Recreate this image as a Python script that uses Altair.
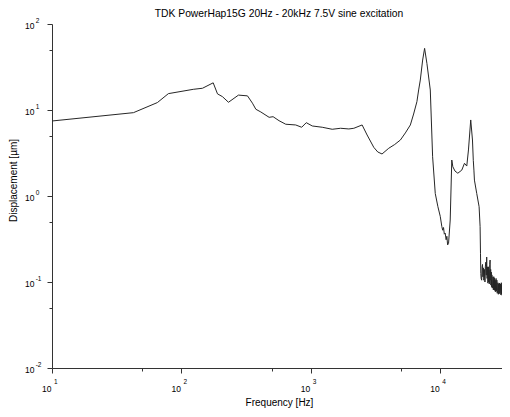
import altair as alt
import pandas as pd

# ---- data (frequency [Hz], displacement [um]) ----
freq = [10, 42.6, 65.2, 79.3, 123.5, 145.5, 176, 190, 207.5, 231, 276, 324, 354, 376,
        411, 476, 511, 568, 640, 764, 850, 922, 1026, 1225, 1463, 1698, 1967, 2150,
        2490, 2722, 3064, 3289, 3549, 3999, 4446, 4921, 5375, 5875, 6226, 6602, 6808,
        7012, 7310, 7570, 7885, 8375,
        8730, 9150, 9590, 10000, 10290, 10450, 10600, 10750, 10920, 11100, 11250,
        11400, 11590, 11940, 12280, 12510, 13000, 13670, 14670, 15390, 16030, 16520,
        17200, 17740, 18000, 18200, 18370, 19140, 19960, 20320, 20460, 20570,
        20700, 20890, 21050, 21200, 21350, 21560, 21700, 21850, 22000, 22150, 22300,
        22500, 22680, 22850, 23000, 23100, 23250, 23340, 23450, 23550, 23650, 23770,
        23900, 24000, 24130, 24270, 24380, 24450, 24530, 24610, 24730, 24850, 24950,
        25060, 25200, 25400, 25550, 25720, 25850, 25950, 26050, 26190, 26300, 26450,
        26550, 26670, 26800, 27000, 27180, 27380, 27550, 27750, 27900, 28100, 28230,
        28350, 28480, 28630, 28800, 29000, 29200, 29390, 29520, 29650, 29800, 29930,
        30100, 30300, 30500, 30740, 31000, 31270, 31500]
disp = [7.45, 9.31, 12.2, 15.5, 17.4, 17.9, 20.7, 15.4, 14.3, 12.3, 14.9, 14.6, 12.0, 10.2,
        9.48, 8.22, 8.36, 7.51, 6.83, 6.70, 6.30, 7.12, 6.52, 6.30, 5.97, 6.13, 6.02, 6.13,
        6.70, 5.12, 3.68, 3.25, 3.08, 3.59, 3.97, 4.48, 5.41, 6.70, 8.98, 12.5, 17.1,
        22.3, 38.1, 52.1, 34.9, 17.1,
        2.86, 1.07, 0.751, 0.58, 0.44, 0.40, 0.43, 0.36, 0.37, 0.31, 0.34,
        0.27, 0.28, 0.526, 2.62, 2.19, 1.95, 1.84, 2.00, 2.40, 2.23, 3.43,
        7.66, 4.48, 2.6, 2.0, 1.53, 1.07, 0.751, 0.44, 0.216, 0.126,
        0.110, 0.105, 0.150, 0.160, 0.115, 0.146, 0.105, 0.110, 0.140, 0.100, 0.150,
        0.170, 0.120, 0.195, 0.110, 0.120, 0.150, 0.097, 0.140, 0.150, 0.100, 0.138,
        0.095, 0.100, 0.160, 0.180, 0.105, 0.110, 0.140, 0.092, 0.125, 0.130, 0.088,
        0.121, 0.085, 0.090, 0.115, 0.081, 0.105, 0.115, 0.082, 0.111, 0.080, 0.085,
        0.105, 0.077, 0.100, 0.110, 0.078, 0.105, 0.074, 0.080, 0.098, 0.072, 0.092,
        0.095, 0.073, 0.097, 0.074, 0.078, 0.095, 0.071, 0.088, 0.098, 0.072, 0.092,
        0.070, 0.075, 0.088, 0.067, 0.088, 0.081, 0.072]

x_ticks = [10, 100, 1000, 10000]
x_exps = ["1", "2", "3", "4"]
y_ticks = [0.01, 0.1, 1, 10, 100]
y_exps = ["-2", "-1", "0", "1", "2"]
x_axis_values = [10, 50, 100, 500, 1000, 5000, 10000]
y_axis_values = [0.01, 0.05, 0.1, 0.5, 1, 5, 10, 50, 100]

title_text = "TDK PowerHap15G 20Hz - 20kHz 7.5V sine excitation"
x_title = "Frequency [Hz]"
y_title = "Displacement [µm]"

W, H = 450, 344
FONT = "Liberation Sans"

df = pd.DataFrame({"f": freq, "d": disp, "i": list(range(len(freq)))})
xl = pd.DataFrame({"t": x_ticks, "e": x_exps, "b": ["10"] * len(x_ticks)})
yl = pd.DataFrame({"t": y_ticks, "e": y_exps, "b": ["10"] * len(y_ticks)})
tl = pd.DataFrame({"t": [title_text]})

xs = alt.Scale(type="log", domain=[10, 30000], nice=False)
ys = alt.Scale(type="log", domain=[0.01, 100], nice=False)

minor_test = "indexof(toString(datum.value), '5') >= 0"
tick_size = {"condition": {"test": minor_test, "value": 3}, "value": 5}

x_axis = alt.Axis(values=x_axis_values, labels=False, grid=False, tickSize=tick_size,
                  domainColor="#333333", tickColor="#333333", title=x_title,
                  titleFont=FONT, titleFontSize=10, titleFontWeight="normal",
                  titleColor="black", titleX=W / 2 + 2, titleY=37, titleAlign="center",
                  titleBaseline="alphabetic")
y_axis = alt.Axis(values=y_axis_values, labels=False, grid=False, tickSize=tick_size,
                  domainColor="#333333", tickColor="#333333", title=y_title,
                  titleFont=FONT, titleFontSize=10, titleFontWeight="normal",
                  titleColor="black", titleX=-38.5, titleY=156, titleAngle=270,
                  titleAlign="center", titleBaseline="middle")

line = alt.Chart(df).mark_line(color="#262626", strokeWidth=1, clip=True).encode(
    x=alt.X("f:Q", scale=xs, axis=x_axis),
    y=alt.Y("d:Q", scale=ys, axis=y_axis),
    order="i:Q",
)

x_base = alt.Chart(xl).mark_text(align="left", baseline="alphabetic", dx=-10,
                                 font=FONT, fontSize=8.5, color="black").encode(
    x=alt.X("t:Q", scale=xs, axis=None), y=alt.value(H + 23.7), text="b:N")
x_sup = alt.Chart(xl).mark_text(align="left", baseline="alphabetic", dx=2,
                                font=FONT, fontSize=6.5, color="black").encode(
    x=alt.X("t:Q", scale=xs, axis=None), y=alt.value(H + 16), text="e:N")
y_base = alt.Chart(yl).mark_text(align="left", baseline="alphabetic", dy=5,
                                 font=FONT, fontSize=8.5, color="black").encode(
    y=alt.Y("t:Q", scale=ys, axis=None), x=alt.value(-27), text="b:N")
y_sup = alt.Chart(yl).mark_text(align="left", baseline="alphabetic", dy=-0.7,
                                font=FONT, fontSize=6.5, color="black").encode(
    y=alt.Y("t:Q", scale=ys, axis=None), x=alt.value(-16.3), text="e:N")
title_mark = alt.Chart(tl).mark_text(align="center", baseline="alphabetic",
                                     font=FONT, fontSize=10.3, color="black").encode(
    x=alt.value(W / 2 + 2), y=alt.value(-7), text="t:N")

chart = alt.layer(line, x_base, x_sup, y_base, y_sup, title_mark).resolve_axis(
    x="independent", y="independent"
).properties(
    width=W, height=H,
    autosize=alt.AutoSizeParams(type="none"),
    padding={"left": 44, "top": 16, "right": 0, "bottom": 41},
).configure_view(stroke=None)

chart.save("out.html", embed_options={"renderer": "svg", "actions": False})
